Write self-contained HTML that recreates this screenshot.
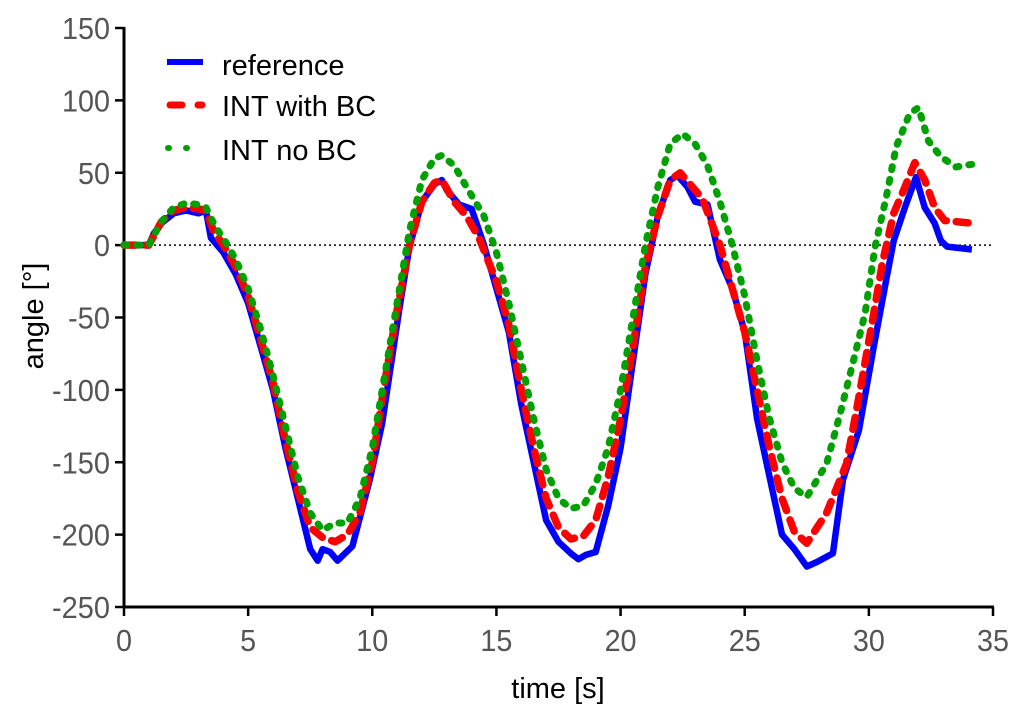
<!DOCTYPE html>
<html><head><meta charset="utf-8"><style>
html,body{margin:0;padding:0;background:#fff;}
svg{display:block;font-family:"Liberation Sans",Arial,sans-serif;}
</style></head><body>
<svg id="chart" width="1024" height="722" viewBox="0 0 1024 722" xmlns="http://www.w3.org/2000/svg">
<g id="axes"></g>
<g id="series"></g>
<g id="legend">
  <line x1="167" y1="62" x2="203" y2="62" stroke="#0000ff" stroke-width="6"/>
  <text x="222" y="75" font-size="29" fill="#000">reference</text>
  <line x1="170" y1="105" x2="202" y2="105" stroke="#ff0000" stroke-width="7" stroke-dasharray="12,16" stroke-linecap="round"/>
  <text x="222" y="116" font-size="29" fill="#000">INT with BC</text>
  <line x1="168" y1="148" x2="203" y2="148" stroke="#00a000" stroke-width="6" stroke-dasharray="1,17" stroke-linecap="round"/>
  <text x="222" y="160" font-size="29" fill="#000">INT no BC</text>
</g>
</svg>
<script>
const xTicks = [0,5,10,15,20,25,30,35];
const yTicks = [150,100,50,0,-50,-100,-150,-200,-250];
const refT = [0,1,1.2,1.5,2,2.5,3,3.3,3.5,4,4.5,5,5.5,6,6.5,7,7.5,7.8,8,8.3,8.6,9.2,9.9,10.4,11.1,11.5,12,12.5,12.8,13,13.5,14,14.5,15,15.5,16,16.5,17,17.5,18,18.3,18.6,19,19.5,20,20.5,21,21.5,22,22.3,22.7,23,23.5,24,24.5,25,25.5,26,26.5,27,27.5,27.9,28.55,28.96,29.6,30.2,30.7,31,31.45,31.9,32.25,32.65,32.9,33.15,34.15];
const refV = [0,0,8,15,22,24,22,24,5,-5,-20,-40,-70,-100,-140,-175,-210,-218,-210,-212,-218,-208,-162,-123,-43,-1,30,42,45,38,28,25,0,-30,-60,-110,-150,-190,-205,-213,-217,-214,-212,-180,-140,-80,-20,20,45,48,40,30,28,-10,-30,-60,-120,-160,-200,-210,-222,-219,-213,-162,-128,-70,-24,3,26,47,26,15,3,-1,-3];
const bcT = [0,1,1.5,2,2.5,3,3.3,3.6,4,4.5,5,5.5,6,6.5,7,7.5,8,8.5,9,9.5,10,10.5,11,11.5,12,12.5,12.8,13.3,13.8,14.3,15,15.5,16,16.5,17,17.5,18,18.5,19,19.5,20,20.5,21,21.5,22,22.4,22.8,23.3,24,24.5,25,25.5,26,26.5,27,27.5,28.3,29.1,29.6,30.2,30.55,31,31.45,31.85,32.25,32.65,33.05,34.2];
const bcV = [0,0,16,24,26,25,24,10,0,-15,-35,-65,-95,-135,-170,-195,-202,-205,-200,-185,-150,-95,-45,0,30,43,45,30,20,5,-25,-55,-100,-140,-175,-195,-203,-201,-190,-160,-120,-70,-15,20,45,50,42,32,0,-30,-60,-100,-140,-175,-198,-206,-185,-151,-105,-47,-12,22,40,57,45,26,17,15];
const noT = [0,1,1.5,2,2.5,3,3.3,3.7,4,4.5,5,5.5,6,6.5,7,7.5,8,8.5,9,9.5,10,10.5,11,11.5,12,12.5,12.8,13.3,13.8,14.5,15,15.5,16,16.5,17,17.5,18,18.5,19,19.5,20,20.5,21,21.5,22,22.5,23,23.5,24,24.5,25,25.5,26,26.5,27,27.5,28.3,28.85,29.35,29.85,30.25,30.7,31.1,31.65,32,32.4,32.9,33.5,34.2];
const noV = [0,0,16,26,29,28,26,12,5,-10,-30,-58,-90,-125,-160,-185,-197,-192,-192,-175,-140,-90,-40,10,45,60,62,55,40,20,-5,-40,-80,-120,-155,-175,-182,-180,-165,-140,-100,-50,0,40,70,77,70,55,30,0,-35,-80,-120,-150,-168,-174,-151,-116,-82,-47,-1,33,68,91,95,72,61,54,56];

const X0=124, X1=993, Y0=607, Y1=28, XMAX=35, YMIN=-250, YMAX=150;
const xs = t => X0 + (t/XMAX)*(X1-X0);
const ys = v => Y0 - (v-YMIN)/(YMAX-YMIN)*(Y0-Y1);
const NS="http://www.w3.org/2000/svg";
const axes=document.getElementById('axes');
function mk(tag,attrs,parent){const e=document.createElementNS(NS,tag);for(const k in attrs)e.setAttribute(k,attrs[k]);parent.appendChild(e);return e;}
function labW(s){let w=0;for(const c of String(s))w+=(c==='-'?10:16);return w;}

const zl=mk('line',{x1:X0,x2:X1,y1:ys(0),y2:ys(0),stroke:'#000','stroke-width':1.5,'stroke-dasharray':'2,3'},axes);


const ya=mk('line',{x1:X0,x2:X0,y1:Y1-1,y2:Y0+1,stroke:'#000','stroke-width':3},axes);


const xa=mk('line',{x1:X0-1,x2:X1+1,y1:Y0,y2:Y0,stroke:'#000','stroke-width':3},axes);


yTicks.forEach(v=>{
  const t=mk('line',{x1:X0-9,x2:X0,y1:ys(v),y2:ys(v),stroke:'#000','stroke-width':2.5},axes);
  
  
  const l=mk('text',{x:X0-14,y:ys(v)+11,'text-anchor':'end','font-size':31,fill:'#555',textLength:labW(v),lengthAdjust:'spacingAndGlyphs'},axes);
  l.textContent=v;
  
  
});
xTicks.forEach(v=>{
  const t=mk('line',{x1:xs(v),x2:xs(v),y1:Y0,y2:Y0+9,stroke:'#000','stroke-width':2.5},axes);
  
  
  const l=mk('text',{x:xs(v),y:Y0+44,'text-anchor':'middle','font-size':31,fill:'#555',textLength:labW(v),lengthAdjust:'spacingAndGlyphs'},axes);
  l.textContent=v;
  
  
});
const xt=mk('text',{x:558,y:698,'text-anchor':'middle','font-size':29,fill:'#000'},axes);
xt.textContent='time [s]';


const yt=mk('text',{x:0,y:0,'text-anchor':'middle','font-size':29,fill:'#000',transform:'translate(43,316) rotate(-90)'},axes);
yt.textContent='angle [°]';



const sg=document.getElementById('series');
function line(T,V,attrs,name){
  const d=T.map((t,i)=>(i?'L':'M')+xs(t).toFixed(1)+','+ys(V[i]).toFixed(1)).join('');
  const p=mk('path',Object.assign({d:d,fill:'none','stroke-linejoin':'round'},attrs),sg);
  
  
}
line(refT,refV,{stroke:'#0000ff','stroke-width':6.5},'series-reference');
line(bcT,bcV,{stroke:'#ff0000','stroke-width':7.5,'stroke-dasharray':'12,10','stroke-linecap':'round'},'series-int-with-bc');
line(noT,noV,{stroke:'#00a000','stroke-width':7,'stroke-dasharray':'3,10','stroke-linecap':'round'},'series-int-no-bc');
</script>
</body></html>
